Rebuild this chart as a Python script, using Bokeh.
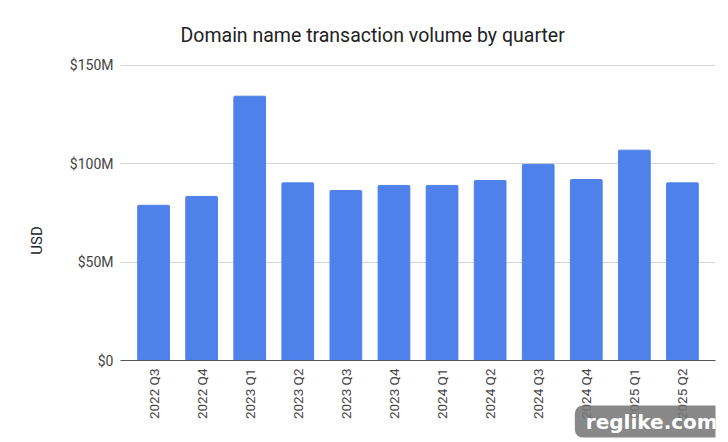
from bokeh.plotting import figure
from bokeh.layouts import column
from bokeh.models import FactorRange, Range1d, FixedTicker, Label, Title
from bokeh.embed import file_html
from bokeh.resources import INLINE
import math

quarters = ["2022 Q3", "2022 Q4", "2023 Q1", "2023 Q2", "2023 Q3", "2023 Q4",
            "2024 Q1", "2024 Q2", "2024 Q3", "2024 Q4", "2025 Q1", "2025 Q2"]
volume = [78.8, 83.3, 134.2, 90.2, 86.3, 88.9, 88.9, 91.4, 99.6, 91.9, 106.8, 90.2]
y_ticks = [0, 50, 100, 150]
y_labels = {0: "$0", 50: "$50M", 100: "$100M", 150: "$150M"}

p = figure(width=728, height=442, output_backend="svg", toolbar_location=None,
           x_range=FactorRange(factors=quarters, range_padding=0.03125),
           y_range=Range1d(0, 150.3),
           min_border_left=120, min_border_right=13, min_border_top=64, min_border_bottom=82)
p.outline_line_color = None
p.background_fill_color = "white"

p.vbar(x=quarters, top=volume, width=0.66, color="#4f81ea", border_radius=1)

p.title = Title(text="Domain name transaction volume by quarter", align="left", offset=60,
                standoff=36, text_font="Roboto", text_font_size="19.5px",
                text_font_style="normal", text_color="#222222")

p.xgrid.grid_line_color = None
p.ygrid.grid_line_color = "#d4d4d4"
p.ygrid.ticker = FixedTicker(ticks=y_ticks)

ya = p.yaxis[0]
ya.ticker = FixedTicker(ticks=y_ticks)
ya.major_label_overrides = y_labels
ya.axis_line_color = None
ya.major_tick_line_color = None
ya.minor_tick_line_color = None
ya.major_label_text_font = "Roboto"
ya.major_label_text_font_size = "14px"
ya.major_label_text_color = "#444444"
ya.major_label_standoff = 1
ya.axis_label = "USD" + "\u00a0" * 15
ya.axis_label_text_font = "Roboto"
ya.axis_label_text_font_size = "15px"
ya.axis_label_text_font_style = "normal"
ya.axis_label_text_color = "#222222"
ya.axis_label_standoff = 21

xa = p.xaxis[0]
xa.axis_line_color = "#555555"
xa.axis_line_width = 1
xa.major_tick_line_color = None
xa.minor_tick_line_color = None
xa.major_label_orientation = math.pi / 2
xa.major_label_text_font = "Roboto"
xa.major_label_text_font_size = "13.5px"
xa.major_label_text_color = "#444444"
xa.major_label_standoff = 2

over = figure(width=728, height=442, output_backend="svg", toolbar_location=None,
              x_range=Range1d(0, 728), y_range=Range1d(442, 0),
              x_axis_location=None, y_axis_location=None,
              min_border=0, margin=(-442, 0, 0, 0),
              background_fill_alpha=0, border_fill_alpha=0)
over.outline_line_color = None
over.grid.visible = False

over.add_layout(Label(x=650, y=421, text="reglike.com",
             text_font="DejaVu Sans", text_font_style="bold", text_font_size="20px",
             text_color="white", background_fill_color="#777777", background_fill_alpha=0.88,
             border_radius=8, padding=(11, 4), text_baseline="middle", text_align="center"))

open("out.html", "w").write(file_html(column(p, over), INLINE))
